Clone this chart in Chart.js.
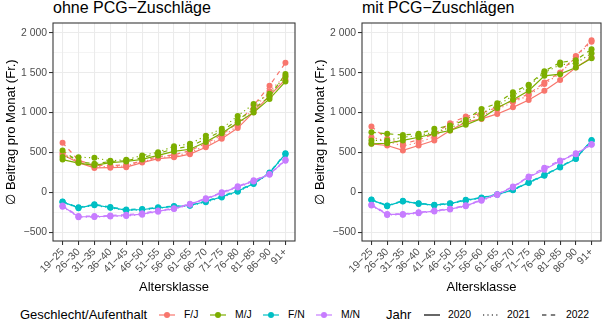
<!DOCTYPE html>
<html>
<head>
<meta charset="utf-8">
<script src="https://cdn.jsdelivr.net/npm/chart.js@4/dist/chart.umd.min.js"></script>
<style>
  html, body { margin: 0; padding: 0; background: #fff; }
  body { width: 605px; height: 323px; position: relative; overflow: hidden;
         font-family: "Liberation Sans", Arial, sans-serif; color: #000; }
  .panel-title { position: absolute; top: 0; font-size: 16px; line-height: 16px; white-space: nowrap; }
  canvas { position: absolute; top: 0; }
  .lg { position: absolute; top: 307px; height: 16px; line-height: 16px; font-size: 10.4px; white-space: nowrap; }
  .lg.head { font-size: 13px; }
  .lg svg { display: block; }
</style>
</head>
<body>
<div class="panel-title" style="left:53px">ohne PCG−Zuschläge</div>
<div class="panel-title" style="left:362px">mit PCG−Zuschlägen</div>
<canvas id="ohne" width="300" height="295" style="left:0"></canvas>
<canvas id="mit" width="296" height="295" style="left:309px"></canvas>
<div id="legend"></div>
<script>
// Age classes on the x axis
const ageClasses = ['19−25','26−30','31−35','36−40','41−45','46−50','51−55','56−60',
                    '61−65','66−70','71−75','76−80','81−85','86−90','91+'];
const groups = ['F/J', 'M/J', 'F/N', 'M/N'];
const years = ['2020', '2021', '2022'];
const yTickValues = [-500, 0, 500, 1000, 1500, 2000];
const yGridValues = [-500, -250, 0, 250, 500, 750, 1000, 1250, 1500, 1750, 2000];

// Average contribution per month (Fr.), without PCG surcharges
const ohneFJ2020 = [470, 372, 305, 308, 315, 372, 422, 438, 478, 565, 672, 805, 1005, 1212, 1415];
const ohneFJ2021 = [492, 385, 322, 322, 330, 382, 432, 452, 500, 585, 692, 832, 1048, 1268, 1462];
const ohneFJ2022 = [621, 402, 338, 335, 345, 392, 446, 470, 522, 612, 722, 868, 1088, 1338, 1625];
const ohneMJ2020 = [410, 366, 338, 372, 386, 412, 462, 512, 540, 630, 742, 872, 1002, 1172, 1390];
const ohneMJ2021 = [442, 440, 432, 394, 408, 462, 502, 578, 608, 708, 798, 958, 1108, 1236, 1450];
const ohneMJ2022 = [525, 380, 358, 385, 396, 434, 486, 546, 575, 668, 770, 905, 1045, 1200, 1485];
const ohneFN2020 = [-121, -196, -158, -192, -225, -217, -196, -179, -167, -117, -58, 12, 108, 242, 483];
const ohneFN2021 = [-127, -200, -165, -196, -230, -222, -200, -183, -170, -125, -66, 5, 102, 236, 475];
const ohneFN2022 = [-115, -190, -152, -186, -216, -210, -190, -174, -162, -110, -50, 20, 115, 248, 490];
const ohneMN2020 = [-175, -308, -308, -300, -292, -275, -237, -208, -150, -83, -8, 67, 142, 225, 400];
const ohneMN2021 = [-182, -315, -312, -305, -298, -282, -245, -212, -156, -90, -15, 60, 136, 220, 395];
const ohneMN2022 = [-168, -300, -300, -292, -282, -265, -228, -200, -145, -76, 0, 75, 150, 230, 410];

// Average contribution per month (Fr.), with PCG surcharges
const mitFJ2020 = [608, 587, 525, 587, 650, 775, 880, 921, 983, 1066, 1158, 1275, 1408, 1566, 1691];
const mitFJ2021 = [691, 640, 580, 625, 695, 845, 930, 962, 1040, 1130, 1215, 1360, 1490, 1700, 1890];
const mitFJ2022 = [825, 670, 608, 658, 733, 866, 950, 991, 1066, 1150, 1233, 1379, 1504, 1712, 1908];
const mitMJ2020 = [608, 615, 650, 690, 735, 775, 846, 925, 1058, 1160, 1275, 1462, 1483, 1566, 1683];
const mitMJ2021 = [650, 650, 691, 712, 754, 810, 880, 990, 1090, 1210, 1337, 1504, 1600, 1620, 1745];
const mitMJ2022 = [754, 733, 720, 733, 796, 837, 908, 1046, 1116, 1254, 1350, 1520, 1629, 1658, 1796];
const mitFN2020 = [-96, -171, -112, -142, -162, -142, -100, -71, -29, 30, 121, 212, 317, 421, 650];
const mitFN2021 = [-100, -176, -118, -147, -167, -148, -106, -76, -33, 25, 116, 207, 312, 418, 645];
const mitFN2022 = [-92, -166, -107, -137, -157, -137, -95, -66, -25, 35, 126, 218, 322, 426, 655];
const mitMN2020 = [-162, -279, -279, -258, -237, -212, -171, -100, -29, 65, 191, 283, 392, 483, 600];
const mitMN2021 = [-168, -286, -284, -264, -243, -218, -177, -106, -34, 60, 185, 300, 386, 478, 596];
const mitMN2022 = [-156, -272, -273, -252, -231, -206, -165, -95, -24, 72, 198, 308, 398, 490, 606];

const ohneTable = [
  [ohneFJ2020, ohneFJ2021, ohneFJ2022],
  [ohneMJ2020, ohneMJ2021, ohneMJ2022],
  [ohneFN2020, ohneFN2021, ohneFN2022],
  [ohneMN2020, ohneMN2021, ohneMN2022]
];
const mitTable = [
  [mitFJ2020, mitFJ2021, mitFJ2022],
  [mitMJ2020, mitMJ2021, mitMJ2022],
  [mitFN2020, mitFN2021, mitFN2022],
  [mitMN2020, mitMN2021, mitMN2022]
];

const groupColors = ['#F8766D', '#7CAE00', '#00BFC4', '#C77CFF'];
const yearDash = [[], [1.2, 3.2], [4.4, 4.4]];
const FONT = '"Liberation Sans", Arial, sans-serif';
Chart.defaults.font.family = FONT;

function fmtFr(v) {
  const s = String(Math.abs(v)).replace(/\B(?=(\d{3})+(?!\d))/g, ' ');
  return v < 0 ? '−' + s : s;
}

function buildDatasets(table) {
  const lines = [], points = [];
  let k = 0;
  groups.forEach((g, gi) => {
    years.forEach((yr, yi) => {
      const data = table[gi][yi].map((v, i) => ({ x: i, y: v }));
      lines.push({
        label: g + ' ' + yr, data,
        borderColor: groupColors[gi], borderWidth: 1.2, borderDash: yearDash[yi],
        pointRadius: 0, fill: false, tension: 0, order: 200 - k
      });
      points.push({
        label: g + ' ' + yr + ' Punkte', data, showLine: false,
        pointRadius: 3, pointBackgroundColor: groupColors[gi],
        pointBorderWidth: 0, borderColor: groupColors[gi], order: 100 - k
      });
      k++;
    });
  });
  return lines.concat(points);
}

// Dark frame around each panel
const panelFrame = {
  id: 'panelFrame',
  afterDatasetsDraw(chart) {
    const { ctx, chartArea: a } = chart;
    ctx.save();
    ctx.strokeStyle = '#333333';
    ctx.lineWidth = 1.07;
    ctx.strokeRect(a.left, a.top, a.right - a.left, a.bottom - a.top);
    ctx.restore();
  }
};

function makePanel(id, table, padRight) {
  const isMajor = v => yTickValues.includes(v);
  new Chart(document.getElementById(id), {
    type: 'line',
    data: { datasets: buildDatasets(table) },
    options: {
      responsive: false, animation: false, devicePixelRatio: 1,
      layout: { padding: { top: 23, right: padRight, bottom: 0, left: 0 } },
      plugins: { legend: { display: false }, tooltip: { enabled: false } },
      scales: {
        x: {
          type: 'linear', min: -0.6, max: 14.6,
          afterBuildTicks: s => { s.ticks = ageClasses.map((_, i) => ({ value: i })); },
          afterFit: s => { s.height = 54; },
          ticks: {
            autoSkip: false, maxRotation: 45, minRotation: 45, padding: 1,
            color: '#4D4D4D', font: { size: 10.4 },
            callback: v => ageClasses[v]
          },
          grid: { color: '#EBEBEB', lineWidth: 1.07, drawTicks: true, tickLength: 4,
                  tickColor: '#333333', tickWidth: 1.07 },
          border: { display: false },
          title: { display: true, text: 'Altersklasse', color: '#000',
                   font: { size: 13 }, padding: { top: 0, bottom: 0 } }
        },
        y: {
          type: 'linear', min: -612.5, max: 2125,
          afterBuildTicks: s => { s.ticks = yGridValues.map(v => ({ value: v })); },
          afterFit: s => { s.width = 53; },
          ticks: {
            autoSkip: false, padding: 2, color: '#4D4D4D', font: { size: 10.4 },
            callback: v => isMajor(v) ? fmtFr(v) : ''
          },
          grid: {
            color: '#EBEBEB',
            lineWidth: c => (c.tick && isMajor(c.tick.value)) ? 1.07 : 0.55,
            drawTicks: true, tickLength: 4, tickWidth: 1.07,
            tickColor: c => (c.tick && isMajor(c.tick.value)) ? '#333333' : 'rgba(0,0,0,0)'
          },
          border: { display: false },
          title: { display: true, text: '∅ Beitrag pro Monat (Fr.)', color: '#000',
                   font: { size: 13 }, padding: { top: 4, bottom: 0 } }
        }
      }
    },
    plugins: [panelFrame]
  });
}

makePanel('ohne', ohneTable, 5);
makePanel('mit', mitTable, 1);

// Legends below the panels
(function buildLegend() {
  const host = document.getElementById('legend');
  const add = (html, left, cls) => {
    const d = document.createElement('div');
    d.className = 'lg' + (cls ? ' ' + cls : '');
    d.style.left = left + 'px';
    d.innerHTML = html;
    host.appendChild(d);
  };
  add('Geschlecht/Aufenthalt', 20, 'head');
  const colorKeyX = [157, 208, 261, 314];
  groups.forEach((g, gi) => {
    const c = groupColors[gi];
    add('<svg width="20" height="16"><line x1="2" y1="8" x2="18" y2="8" stroke="' + c +
        '" stroke-width="1.2"/><circle cx="10" cy="8" r="3" fill="' + c + '"/></svg>', colorKeyX[gi]);
    add(g, colorKeyX[gi] + 27);
  });
  add('Jahr', 386, 'head');
  const yearKeyX = [422, 481, 540];
  years.forEach((yr, yi) => {
    const dash = yearDash[yi].length ? ' stroke-dasharray="' + yearDash[yi].join(' ') + '"' : '';
    add('<svg width="20" height="16"><line x1="2" y1="8" x2="18" y2="8" stroke="#000" stroke-width="1.2"' +
        dash + '/></svg>', yearKeyX[yi]);
    add(yr, yearKeyX[yi] + 26);
  });
})();
</script>
</body>
</html>
